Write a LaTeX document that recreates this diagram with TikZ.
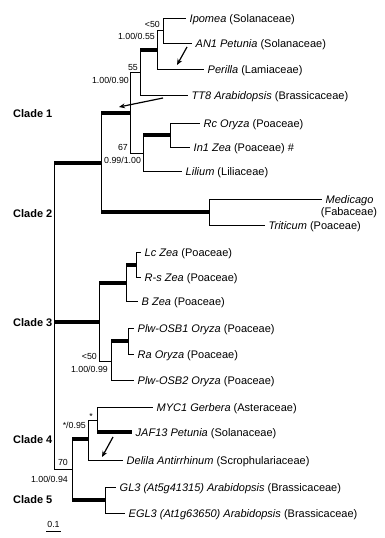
\documentclass[tikz,border=0pt]{standalone}
\usepackage{fontspec}
\setmainfont{Liberation Sans}
\usetikzlibrary{arrows.meta}
\begin{document}
\begin{tikzpicture}[x=1pt,y=-1pt,
  br/.style={line width=1pt},
  tb/.style={line width=4pt},
  leaf/.style={anchor=west,inner xsep=3.5pt,inner ysep=0pt,text height=8pt,text depth=0pt,font=\fontsize{11}{13}\selectfont},
  fam/.style={anchor=base,inner sep=0pt,font=\fontsize{11}{13}\selectfont},
  sup/.style={inner sep=0pt,font=\fontsize{8.8}{10}\selectfont},
  clade/.style={anchor=base west,inner sep=0pt,font=\fontsize{11}{13}\selectfont\bfseries},
  arr/.style={line width=1.2pt,-{Stealth[length=6pt,width=5pt]}}
]
\useasboundingbox (0,0) rectangle (385,538);

% ---------- leaves ----------
\node[leaf] (ipo)  at (186,18)  {\textit{Ipomea} (Solanaceae)};
\node[leaf] (an1)  at (192,43)  {\textit{AN1 Petunia} (Solanaceae)};
\node[leaf] (per)  at (204,69)  {\textit{Perilla} (Lamiaceae)};
\node[leaf] (tt8)  at (188,95)  {\textit{TT8 Arabidopsis} (Brassicaceae)};
\node[leaf] (rc)   at (200,123) {\textit{Rc Oryza} (Poaceae)};
\node[leaf] (in1)  at (190,147) {\textit{In1 Zea} (Poaceae) \#};
\node[leaf] (lil)  at (182,171) {\textit{Lilium} (Liliaceae)};
\node[leaf] (med)  at (322,199) {\textit{Medicago}};
\node[fam]  (medf) at (349,215) {(Fabaceae)};
\node[leaf] (tri)  at (265,225) {\textit{Triticum} (Poaceae)};
\node[leaf] (lc)   at (141,252) {\textit{Lc Zea} (Poaceae)};
\node[leaf] (rs)   at (141,277) {\textit{R-s Zea} (Poaceae)};
\node[leaf] (bz)   at (138,301) {\textit{B Zea} (Poaceae)};
\node[leaf] (osb1) at (134,328) {\textit{Plw-OSB1 Oryza} (Poaceae)};
\node[leaf] (ra)   at (134,354) {\textit{Ra Oryza} (Poaceae)};
\node[leaf] (osb2) at (134,380) {\textit{Plw-OSB2 Oryza} (Poaceae)};
\node[leaf] (myc)  at (153,407) {\textit{MYC1 Gerbera} (Asteraceae)};
\node[leaf] (jaf)  at (132,432) {\textit{JAF13 Petunia} (Solanaceae)};
\node[leaf] (del)  at (123,460) {\textit{Delila Antirrhinum} (Scrophulariaceae)};
\node[leaf] (gl3)  at (116,487) {\textit{GL3 (At5g41315) Arabidopsis} (Brassicaceae)};
\node[leaf] (egl3) at (125,513) {\textit{EGL3 (At1g63650) Arabidopsis} (Brassicaceae)};

% ---------- internal nodes ----------
\coordinate (B)   at (163,30.5);
\coordinate (A)   at (157,50);
\coordinate (C)   at (140,72);
\coordinate (E)   at (170,135);
\coordinate (D)   at (143,153);
\coordinate (CL1) at (130,113);
\coordinate (CL2) at (209,212);
\coordinate (N12) at (101,163);
\coordinate (G)   at (136,264.5);
\coordinate (F)   at (126,283);
\coordinate (I)   at (128,341);
\coordinate (H)   at (111,361);
\coordinate (CL3) at (99,322);
\coordinate (M)   at (97,420);
\coordinate (CL4) at (88,439);
\coordinate (CL5) at (105,500);
\coordinate (J)   at (72,469);
\coordinate (R)   at (54,322);

% ---------- branches ----------
\draw[br] (B) |- (ipo.west);  \draw[br] (B) |- (an1.west);
\draw[br] (A) |- (B);         \draw[br] (A) |- (per.west);
\draw[br] (C) -- (C |- A);    \draw[tb] (C |- A) -- (A);
\draw[br] (C) |- (tt8.west);
\draw[br] (E) |- (rc.west);   \draw[br] (E) |- (in1.west);
\draw[br] (D) -- (D |- E);    \draw[tb] (D |- E) -- (E);
\draw[br] (D) |- (lil.west);
\draw[br] (CL1) |- (C);       \draw[br] (CL1) |- (D);
\draw[br] (CL2) |- (med.west); \draw[br] (CL2) |- (tri.west);
\draw[br] (N12) -- (N12 |- CL1); \draw[tb] (N12 |- CL1) -- (CL1);
\draw[br] (N12) -- (N12 |- CL2); \draw[tb] (N12 |- CL2) -- (CL2);
\draw[br] (G) |- (lc.west);   \draw[br] (G) |- (rs.west);
\draw[br] (F) -- (F |- G);    \draw[tb] (F |- G) -- (G);
\draw[br] (F) |- (bz.west);
\draw[br] (I) |- (osb1.west); \draw[br] (I) |- (ra.west);
\draw[br] (H) -- (H |- I);    \draw[tb] (H |- I) -- (I);
\draw[br] (H) |- (osb2.west);
\draw[br] (CL3) -- (CL3 |- F); \draw[tb] (CL3 |- F) -- (F);
\draw[br] (CL3) |- (H);
\draw[br] (M) |- (myc.west);
\draw[br] (M) -- (M |- jaf.west); \draw[tb] (M |- jaf.west) -- (jaf.west);
\draw[br] (CL4) |- (M);       \draw[br] (CL4) |- (del.west);
\draw[br] (CL5) |- (gl3.west); \draw[br] (CL5) |- (egl3.west);
\draw[br] (J) -- (J |- CL4);  \draw[tb] (J |- CL4) -- (CL4);
\draw[br] (J) -- (J |- CL5);  \draw[tb] (J |- CL5) -- (CL5);
\draw[br] (R) -- (R |- N12);  \draw[tb] (R |- N12) -- (N12);
\draw[tb] (R) -- (CL3);
\draw[br] (R) |- (J);

% ---------- support values ----------
\node[sup,anchor=base east] (s1)  at (160,27.2)  {<50};
\node[sup,anchor=base east] (s2)  at (155,39.2)  {1.00/0.55};
\node[sup,anchor=base east] (s3)  at (138,70.2)  {55};
\node[sup,anchor=base east] (s4)  at (129,83.2)  {1.00/0.90};
\node[sup,anchor=base east] (s5)  at (128,150.2) {67};
\node[sup,anchor=base west] (s6)  at (104,163)   {0.99/1.00};
\node[sup,anchor=base east] (s7)  at (97,359)    {<50};
\node[sup,anchor=base east] (s8)  at (108,372)   {1.00/0.99};
\node[sup,anchor=base]      (s9)  at (91,419)    {*};
\node[sup,anchor=base east] (s10) at (86,428)    {*/0.95};
\node[sup,anchor=base east] (s11) at (68,465.5)  {70};
\node[sup,anchor=base east] (s12) at (68,482.5)  {1.00/0.94};

% ---------- clade labels ----------
\node[clade] (c1) at (13,117) {Clade 1};
\node[clade] (c2) at (13,217) {Clade 2};
\node[clade] (c3) at (13,326) {Clade 3};
\node[clade] (c4) at (13,443) {Clade 4};
\node[clade] (c5) at (13,503) {Clade 5};

% ---------- arrows ----------
\coordinate (a1s) at (187,47);  \coordinate (a1e) at (177,65);
\coordinate (a2s) at (163,98);  \coordinate (a2e) at (119,107);
\coordinate (a3s) at (113,437); \coordinate (a3e) at (102,457);
\draw[arr] (a1s) -- (a1e);
\draw[arr] (a2s) -- (a2e);
\draw[arr] (a3s) -- (a3e);

% ---------- scale bar ----------
\coordinate (sb1) at (46,531); \coordinate (sb2) at (61,531);
\draw[br] (sb1) -- (sb2);
\node[sup,anchor=base] (sbl) at (53.5,527) {0.1};
\end{tikzpicture}
\end{document}
